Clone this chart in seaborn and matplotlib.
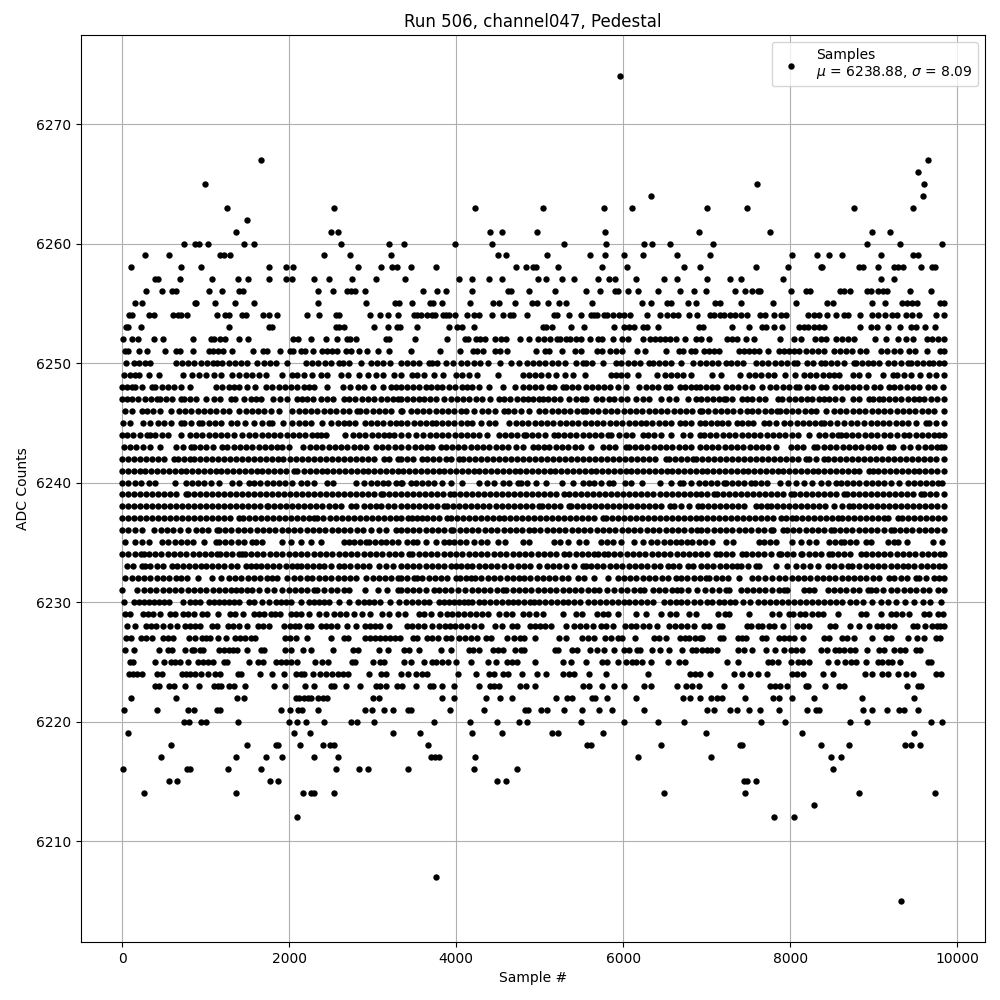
#! /usr/bin/python3
import pandas as pd
import seaborn as sns
import matplotlib
matplotlib.use('Agg')
import matplotlib.pyplot as plt

# sample numbers, one list per ADC level
adc_6205 = [9332]
adc_6207 = [3760]
adc_6212 = [2096, 7808, 8048]
adc_6213 = [8288]
adc_6214 = [260, 1364, 2168, 2264, 2300, 2540, 6484, 7460, 8828, 9740]
adc_6215 = [560, 656, 1772, 1868, 4492, 4600, 7448, 7484, 7592]
adc_6216 = [8, 776, 812, 1268, 1664, 2564, 2840, 2948, 3424, 4216, 4732, 8516]
adc_6217 = [464, 1364, 1724, 1916, 2300, 2588, 3700, 3748, 3796, 4228, 6184, 7052, 8492, 8612]
adc_6218 = [584, 1496, 1844, 1868, 2132, 2408, 2492, 2540, 3664, 5572, 5620, 6448, 7400, 7424, 8372, 8708, 9380, 9452, 9560]
adc_6219 = [68, 2060, 2252, 3248, 3568, 4192, 4552, 5152, 5224, 5764, 6992, 8144, 9488]
adc_6220 = [740, 800, 944, 1004, 1388, 2000, 2096, 2204, 2420, 2744, 2816, 3020, 3736, 4168, 4492, 4756, 4852, 5500, 6016, 6412, 6724, 7652, 7940, 8720, 8924, 9692, 9824]
adc_6221 = [20, 416, 788, 860, 1136, 1172, 1904, 2012, 2108, 2156, 2348, 2912, 2996, 3136, 3248, 3424, 3460, 3928, 4336, 4828, 4864, 5020, 5092, 5296, 5512, 5716, 5872, 6256, 7004, 7088, 7280, 7364, 7508, 7640, 7868, 8204, 8312, 8348, 8876, 8984, 9164, 9308, 9368, 9536]
adc_6222 = [104, 644, 1376, 1460, 2084, 2120, 2180, 2228, 2264, 2348, 2408, 2456, 3008, 3080, 3832, 3976, 4360, 4528, 4672, 5200, 5332, 5392, 5632, 5668, 5812, 6160, 6712, 6796, 6920, 7052, 7124, 7184, 7460, 7796, 7868, 8024, 8288, 8864, 9488]
adc_6223 = [392, 440, 560, 620, 752, 920, 1100, 1148, 1184, 1280, 1340, 1472, 1820, 1952, 2192, 2300, 2504, 2540, 2684, 2852, 3044, 3092, 3164, 3296, 3356, 3520, 3688, 3724, 3832, 3976, 4276, 4408, 4456, 4516, 4768, 4840, 4948, 5524, 5596, 5752, 5896, 6016, 6256, 6340, 6640, 6748, 6820, 6908, 7208, 7412, 7760, 7820, 7880, 7964, 8192, 8216, 8412, 8588, 8648, 9404, 9536, 9572]
adc_6224 = [80, 128, 176, 236, 416, 476, 716, 764, 812, 872, 944, 1028, 1112, 1172, 1388, 1424, 1652, 1796, 1940, 2084, 2144, 2180, 2288, 2372, 2444, 2516, 2588, 2648, 2708, 2960, 3104, 3164, 3344, 3424, 3520, 3592, 3652, 4024, 4240, 4396, 4456, 4564, 4624, 4792, 4972, 5080, 5284, 5356, 5416, 5596, 5800, 6304, 6796, 6856, 6916, 7040, 7328, 7424, 7520, 7616, 7724, 8024, 8084, 8156, 8396, 8516, 8900, 8984, 9104, 9176, 9296, 9392, 9476, 9752, 9812]
adc_6225 = [92, 128, 392, 500, 584, 632, 692, 788, 908, 968, 1028, 1088, 1220, 1256, 1520, 1628, 1688, 1844, 1904, 1964, 2024, 2096, 2312, 2396, 2468, 2756, 2792, 3008, 3092, 3140, 3376, 3460, 3616, 3712, 3760, 3832, 3904, 4000, 4180, 4384, 4480, 4612, 4672, 4732, 4948, 5284, 5380, 5560, 5752, 5812, 5944, 6040, 6112, 6160, 6232, 6340, 6532, 6664, 6736, 7244, 7376, 7736, 7784, 7856, 8012, 8096, 8156, 8228, 8456, 8564, 8660, 8732, 8792, 8912, 9056, 9104, 9176, 9224, 9320, 9656, 9692]
adc_6226 = [32, 140, 440, 548, 596, 752, 836, 860, 932, 968, 1160, 1220, 1280, 1328, 1376, 1496, 1664, 1700, 1952, 2024, 2168, 2264, 2528, 2768, 2828, 3080, 3188, 3376, 3436, 3556, 3820, 3940, 4156, 4204, 4276, 4444, 4504, 4564, 4708, 4780, 4816, 5188, 5224, 5392, 5452, 5608, 5692, 5776, 5896, 6016, 6076, 6172, 6208, 6352, 6436, 6544, 6700, 6820, 6868, 6944, 7004, 7052, 7124, 7376, 7448, 7544, 7712, 7820, 7928, 8012, 8072, 8144, 8372, 8444, 8540, 8588, 8648, 8720, 8780, 8924, 9068, 9128, 9248, 9320, 9380, 9512, 9560]
adc_6227 = [44, 104, 224, 284, 356, 488, 548, 608, 800, 872, 956, 1004, 1052, 1148, 1244, 1352, 1412, 1472, 1544, 1592, 1952, 2012, 2084, 2216, 2504, 2660, 2708, 2912, 2972, 3032, 3092, 3152, 3212, 3272, 3332, 3484, 3532, 3652, 3712, 3784, 3880, 3940, 4036, 4108, 4180, 4252, 4360, 4420, 4612, 4696, 4768, 4816, 4948, 5236, 5320, 5512, 5584, 5656, 5788, 5860, 5944, 5992, 6148, 6376, 6424, 6508, 6676, 6736, 6784, 6856, 6916, 6944, 7160, 7196, 7376, 7424, 7472, 7664, 7712, 7868, 7928, 7988, 8048, 8156, 8408, 8468, 8624, 8684, 8768, 8984, 9152, 9212, 9416, 9524, 9608, 9752, 9800]
adc_6228 = [56, 152, 284, 344, 404, 488, 572, 656, 752, 812, 872, 932, 1076, 1136, 1268, 1328, 1400, 1496, 1628, 1688, 1760, 1940, 2012, 2072, 2120, 2216, 2264, 2384, 2444, 2504, 2576, 2696, 2804, 2912, 2972, 3032, 3092, 3200, 3412, 3472, 3544, 3616, 3712, 3796, 3868, 3928, 3988, 4060, 4132, 4216, 4300, 4468, 4552, 4672, 4732, 4888, 4948, 5008, 5068, 5140, 5320, 5416, 5488, 5560, 5644, 5740, 5800, 5884, 6028, 6100, 6160, 6244, 6316, 6400, 6544, 6616, 6688, 6760, 6844, 6968, 7028, 7148, 7184, 7484, 7532, 7616, 7664, 7748, 7808, 7916, 8084, 8156, 8228, 8480, 8540, 8720, 8828, 8948, 9044, 9104, 9176, 9248, 9476, 9524, 9620, 9704, 9764, 9800, 9840]
adc_6229 = [32, 92, 248, 308, 368, 452, 572, 632, 728, 788, 860, 956, 1016, 1148, 1292, 1352, 1448, 1580, 1640, 1700, 1784, 1832, 1892, 2024, 2084, 2144, 2240, 2360, 2444, 2540, 2612, 2684, 2780, 2876, 2972, 3116, 3200, 3308, 3388, 3556, 3616, 3700, 3808, 3892, 3952, 4024, 4096, 4168, 4240, 4312, 4384, 4516, 4600, 4672, 4804, 4876, 4960, 5044, 5284, 5440, 5512, 5692, 5764, 5824, 5944, 6160, 6280, 6448, 6556, 6628, 6784, 6868, 7136, 7220, 7268, 7508, 7784, 7868, 7988, 8036, 8120, 8180, 8264, 8336, 8396, 8576, 8852, 8912, 9092, 9212, 9272, 9344, 9428, 9608, 9668, 9776, 9836]
adc_6230 = [20, 140, 200, 260, 320, 380, 440, 500, 560, 728, 812, 872, 932, 1040, 1100, 1160, 1220, 1280, 1340, 1400, 1520, 1580, 1676, 1760, 1844, 1904, 1964, 2024, 2144, 2240, 2300, 2360, 2420, 2480, 2600, 2720, 2828, 2900, 2960, 3020, 3092, 3212, 3320, 3400, 3470, 3540, 3610, 3680, 3796, 3860, 3916, 3980, 4040, 4096, 4148, 4196, 4270, 4340, 4410, 4480, 4550, 4616, 4676, 4745, 4815, 4880, 4936, 4996, 5065, 5135, 5205, 5275, 5345, 5415, 5485, 5576, 5656, 5725, 5795, 5865, 5935, 6005, 6075, 6145, 6215, 6285, 6356, 6488, 6558, 6628, 6698, 6768, 6848, 6920, 7004, 7064, 7148, 7208, 7280, 7340, 7436, 7520, 7616, 7688, 7760, 7832, 7904, 7976, 8048, 8120, 8192, 8264, 8336, 8408, 8480, 8552, 8624, 8720, 8792, 8876, 8984, 9092, 9176, 9272, 9380, 9488, 9596, 9680, 9812]
adc_6231 = [0, 180, 260, 335, 410, 485, 560, 635, 710, 785, 860, 935, 1010, 1085, 1160, 1235, 1310, 1360, 1420, 1490, 1560, 1640, 1730, 1820, 1920, 1995, 2070, 2145, 2220, 2300, 2340, 2420, 2500, 2572, 2652, 2720, 2912, 3060, 3168, 3300, 3336, 3410, 3485, 3560, 3635, 3736, 3796, 3870, 3936, 4024, 4110, 4196, 4264, 4340, 4410, 4485, 4556, 4596, 4676, 4750, 4825, 4900, 4975, 5050, 5125, 5200, 5275, 5350, 5425, 5500, 5575, 5650, 5716, 5804, 5896, 5976, 6050, 6125, 6200, 6256, 6356, 6430, 6505, 6580, 6650, 6696, 6776, 6888, 6980, 7068, 7145, 7228, 7268, 7408, 7480, 7555, 7630, 7705, 7780, 7868, 7928, 7968, 8168, 8230, 8288, 8448, 8525, 8600, 8675, 8750, 8825, 8928, 8968, 9028, 9108, 9208, 9280, 9360, 9435, 9508, 9588, 9665, 9768, 9840]
adc_6232 = [40, 115, 190, 265, 340, 415, 490, 565, 640, 700, 772, 912, 1080, 1180, 1280, 1355, 1430, 1505, 1580, 1655, 1730, 1800, 1860, 1980, 2055, 2130, 2220, 2280, 2355, 2430, 2505, 2580, 2655, 2730, 2805, 2920, 3000, 3075, 3150, 3225, 3300, 3340, 3415, 3490, 3536, 3596, 3670, 3745, 3820, 3895, 3996, 4048, 4120, 4176, 4224, 4304, 4380, 4455, 4530, 4605, 4680, 4756, 4816, 4890, 4965, 5040, 5115, 5190, 5265, 5340, 5456, 5536, 5648, 5824, 5936, 6010, 6085, 6160, 6235, 6310, 6385, 6460, 6535, 6636, 6696, 6770, 6845, 6920, 6995, 7028, 7108, 7183, 7258, 7388, 7548, 7620, 7700, 7788, 7868, 7943, 8018, 8093, 8168, 8243, 8318, 8393, 8468, 8543, 8618, 8688, 8763, 8838, 8913, 8988, 9063, 9188, 9248, 9323, 9398, 9508, 9548, 9623, 9728, 9788, 9840]
adc_6233 = [60, 135, 240, 280, 340, 415, 490, 600, 652, 725, 800, 875, 940, 1000, 1075, 1150, 1225, 1300, 1375, 1480, 1540, 1600, 1660, 1735, 1810, 1885, 1960, 2035, 2100, 2140, 2215, 2290, 2360, 2420, 2500, 2600, 2660, 2735, 2810, 2885, 2960, 3080, 3160, 3240, 3340, 3410, 3485, 3560, 3635, 3710, 3785, 3860, 3935, 3996, 4056, 4136, 4196, 4270, 4345, 4420, 4495, 4570, 4656, 4736, 4810, 4885, 4996, 5088, 5160, 5235, 5316, 5416, 5516, 5556, 5616, 5690, 5765, 5840, 5915, 5990, 6065, 6140, 6215, 6290, 6365, 6440, 6536, 6596, 6670, 6776, 6836, 6936, 7005, 7080, 7155, 7230, 7308, 7368, 7416, 7490, 7588, 7628, 7828, 7960, 8068, 8160, 8235, 8336, 8448, 8528, 8610, 8688, 8736, 8828, 8903, 8978, 9053, 9128, 9203, 9278, 9353, 9408, 9488, 9563, 9638, 9713, 9788, 9840]
adc_6234 = [0, 75, 150, 225, 260, 320, 395, 470, 545, 620, 695, 770, 845, 920, 995, 1070, 1140, 1172, 1247, 1322, 1397, 1440, 1468, 1543, 1618, 1693, 1768, 1843, 1918, 1993, 2068, 2143, 2218, 2293, 2368, 2443, 2518, 2593, 2668, 2743, 2818, 2893, 2968, 3043, 3118, 3193, 3268, 3340, 3436, 3476, 3551, 3626, 3701, 3776, 3851, 3926, 4001, 4076, 4151, 4226, 4301, 4376, 4451, 4526, 4601, 4676, 4751, 4826, 4901, 4976, 5051, 5126, 5201, 5296, 5356, 5431, 5506, 5581, 5656, 5696, 5776, 5816, 5891, 5966, 6041, 6116, 6191, 6266, 6341, 6416, 6491, 6566, 6641, 6716, 6791, 6866, 6936, 7010, 7108, 7160, 7235, 7310, 7428, 7468, 7543, 7618, 7693, 7768, 7868, 7888, 7963, 8038, 8128, 8148, 8223, 8298, 8373, 8468, 8496, 8571, 8646, 8721, 8848, 8908, 8983, 9058, 9128, 9200, 9275, 9350, 9425, 9500, 9575, 9650, 9725, 9800, 9840]
adc_6235 = [40, 160, 240, 320, 480, 555, 630, 705, 780, 852, 980, 1120, 1160, 1235, 1310, 1385, 1460, 1560, 1600, 1680, 1920, 2020, 2140, 2260, 2380, 2660, 2720, 2780, 2850, 2920, 2960, 3030, 3100, 3160, 3230, 3300, 3408, 3488, 3536, 3636, 3756, 3856, 3916, 3980, 4048, 4116, 4216, 4296, 4376, 4496, 4584, 4796, 4876, 5168, 5248, 5344, 5476, 5556, 5736, 5810, 5885, 5976, 6136, 6236, 6336, 6408, 6488, 6560, 6628, 6688, 6760, 6828, 6904, 6980, 7068, 7228, 7320, 7628, 7688, 7760, 7828, 8028, 8136, 8228, 8308, 8468, 8540, 8608, 8648, 8720, 8795, 8908, 8968, 9176, 9248, 9288, 9396, 9716, 9816]
adc_6236 = [0, 75, 150, 240, 388, 463, 538, 613, 688, 788, 880, 955, 1030, 1140, 1160, 1235, 1310, 1385, 1460, 1535, 1610, 1685, 1760, 1835, 1910, 1985, 2060, 2135, 2210, 2285, 2360, 2435, 2510, 2585, 2660, 2735, 2810, 2885, 2980, 3080, 3155, 3280, 3336, 3411, 3486, 3561, 3636, 3711, 3786, 3861, 3936, 3968, 4043, 4118, 4193, 4268, 4343, 4418, 4493, 4568, 4643, 4718, 4793, 4868, 4936, 5008, 5083, 5158, 5233, 5308, 5383, 5458, 5533, 5608, 5683, 5758, 5833, 5908, 5983, 6058, 6136, 6208, 6283, 6358, 6433, 6508, 6583, 6658, 6733, 6808, 6883, 6936, 7010, 7085, 7160, 7235, 7310, 7385, 7460, 7535, 7610, 7685, 7768, 7800, 7920, 7960, 8035, 8110, 8185, 8260, 8335, 8410, 8488, 8520, 8595, 8670, 8745, 8820, 8895, 8970, 9045, 9120, 9208, 9240, 9315, 9390, 9465, 9540, 9615, 9690, 9765, 9840]
adc_6237 = [0, 72, 144, 216, 288, 360, 432, 504, 576, 648, 720, 792, 864, 936, 1008, 1080, 1152, 1224, 1296, 1400, 1452, 1524, 1596, 1668, 1740, 1812, 1884, 1956, 2028, 2100, 2172, 2244, 2300, 2340, 2412, 2484, 2556, 2628, 2700, 2772, 2844, 2916, 2988, 3060, 3132, 3204, 3276, 3340, 3424, 3476, 3536, 3596, 3656, 3728, 3800, 3896, 3936, 4008, 4080, 4152, 4224, 4296, 4368, 4440, 4516, 4576, 4648, 4720, 4792, 4864, 4936, 5008, 5080, 5152, 5224, 5296, 5368, 5440, 5512, 5584, 5656, 5756, 5796, 5868, 5940, 6012, 6084, 6156, 6228, 6300, 6372, 6444, 6516, 6588, 6660, 6732, 6804, 6876, 6936, 7000, 7072, 7144, 7216, 7288, 7360, 7432, 7504, 7576, 7648, 7720, 7792, 7888, 7948, 8028, 8068, 8140, 8212, 8284, 8356, 8428, 8500, 8568, 8616, 8688, 8760, 8832, 8904, 8976, 9048, 9128, 9176, 9288, 9336, 9408, 9480, 9552, 9624, 9696, 9768, 9840]
adc_6238 = [0, 72, 144, 216, 288, 360, 432, 504, 576, 648, 720, 792, 864, 936, 1008, 1080, 1152, 1224, 1296, 1368, 1440, 1512, 1584, 1656, 1732, 1752, 1824, 1896, 1968, 2040, 2112, 2184, 2256, 2328, 2400, 2472, 2544, 2616, 2740, 2800, 2900, 2970, 3040, 3100, 3180, 3255, 3340, 3410, 3482, 3554, 3626, 3698, 3770, 3856, 3896, 3968, 4040, 4112, 4184, 4256, 4328, 4400, 4472, 4544, 4616, 4688, 4760, 4832, 4904, 4996, 5024, 5096, 5168, 5240, 5356, 5376, 5448, 5520, 5592, 5664, 5736, 5808, 5880, 5952, 6024, 6096, 6168, 6240, 6312, 6384, 6456, 6556, 6608, 6688, 6784, 6896, 6950, 7020, 7092, 7164, 7236, 7308, 7380, 7452, 7588, 7648, 7728, 7768, 7840, 7912, 7984, 8056, 8128, 8200, 8272, 8344, 8416, 8528, 8616, 8700, 8748, 8820, 8892, 8964, 9036, 9108, 9180, 9252, 9324, 9396, 9468, 9540, 9612, 9684, 9756, 9840]
adc_6239 = [0, 72, 144, 216, 288, 360, 432, 504, 576, 648, 760, 790, 862, 934, 1006, 1078, 1150, 1222, 1294, 1366, 1438, 1510, 1582, 1654, 1726, 1798, 1870, 1942, 2014, 2086, 2158, 2230, 2302, 2374, 2446, 2518, 2590, 2662, 2734, 2806, 2878, 2950, 3022, 3100, 3120, 3192, 3264, 3340, 3408, 3480, 3552, 3624, 3696, 3768, 3840, 3928, 3976, 4048, 4120, 4192, 4264, 4336, 4408, 4480, 4552, 4624, 4696, 4768, 4840, 4912, 4984, 5056, 5128, 5200, 5296, 5356, 5428, 5500, 5572, 5644, 5716, 5788, 5860, 5932, 6004, 6076, 6148, 6220, 6292, 6364, 6436, 6508, 6580, 6652, 6724, 6796, 6868, 6936, 7010, 7088, 7128, 7200, 7272, 7344, 7416, 7488, 7560, 7632, 7704, 7776, 7848, 7920, 8008, 8048, 8120, 8192, 8264, 8336, 8408, 8480, 8552, 8648, 8676, 8748, 8820, 8892, 8964, 9036, 9108, 9180, 9252, 9324, 9396, 9468, 9568, 9608, 9680, 9752, 9840]
adc_6240 = [0, 75, 150, 225, 320, 392, 632, 760, 835, 910, 985, 1060, 1160, 1320, 1395, 1520, 1580, 1655, 1730, 1805, 1880, 1955, 2040, 2140, 2220, 2300, 2460, 2520, 2800, 2900, 2975, 3050, 3120, 3188, 3280, 3340, 3356, 3456, 3516, 3590, 3665, 3740, 3836, 3936, 4076, 4276, 4376, 4456, 4556, 4630, 4736, 4776, 4850, 4956, 5076, 5264, 5396, 5516, 5596, 5656, 5730, 5836, 5884, 6024, 6100, 6224, 6444, 6576, 6676, 6716, 6816, 6908, 6980, 7055, 7130, 7208, 7228, 7303, 7378, 7453, 7528, 7576, 7648, 7728, 7876, 7980, 8068, 8168, 8268, 8368, 8448, 8548, 8608, 8680, 8755, 8830, 8905, 8980, 9048, 9128, 9208, 9308, 9408, 9480, 9555, 9630, 9705, 9768, 9816]
adc_6241 = [0, 70, 140, 210, 280, 350, 420, 490, 560, 630, 700, 770, 840, 910, 980, 1050, 1120, 1190, 1260, 1330, 1400, 1470, 1540, 1610, 1680, 1750, 1820, 1890, 1960, 2060, 2100, 2180, 2250, 2320, 2390, 2460, 2530, 2600, 2670, 2740, 2810, 2880, 2950, 3020, 3090, 3160, 3230, 3300, 3370, 3440, 3510, 3580, 3650, 3720, 3790, 3860, 3930, 4000, 4070, 4140, 4210, 4280, 4350, 4420, 4490, 4560, 4630, 4700, 4770, 4840, 4910, 4980, 5050, 5120, 5190, 5260, 5330, 5400, 5470, 5540, 5610, 5680, 5750, 5820, 5890, 5960, 6030, 6100, 6170, 6240, 6310, 6380, 6450, 6520, 6590, 6660, 6730, 6800, 6870, 6940, 7010, 7080, 7150, 7220, 7290, 7360, 7430, 7500, 7570, 7640, 7710, 7780, 7850, 7920, 7990, 8060, 8130, 8200, 8270, 8340, 8410, 8480, 8550, 8620, 8690, 8760, 8830, 8948, 8988, 9058, 9128, 9198, 9268, 9338, 9408, 9478, 9548, 9618, 9688, 9758, 9840]
adc_6242 = [0, 72, 144, 216, 288, 360, 432, 504, 620, 670, 740, 812, 860, 932, 1004, 1076, 1148, 1220, 1292, 1364, 1436, 1508, 1580, 1652, 1724, 1796, 1868, 1932, 2012, 2084, 2156, 2228, 2300, 2372, 2444, 2516, 2588, 2660, 2732, 2804, 2876, 2948, 3020, 3140, 3200, 3300, 3336, 3408, 3480, 3596, 3656, 3728, 3800, 3876, 3936, 4036, 4084, 4156, 4228, 4300, 4372, 4444, 4516, 4588, 4660, 4732, 4804, 4876, 4948, 5020, 5092, 5164, 5236, 5308, 5380, 5452, 5524, 5596, 5668, 5740, 5812, 5884, 5956, 6028, 6100, 6172, 6244, 6316, 6388, 6516, 6548, 6620, 6692, 6764, 6840, 6868, 6940, 7012, 7084, 7156, 7228, 7300, 7372, 7444, 7516, 7588, 7660, 7732, 7804, 7876, 7948, 8020, 8092, 8188, 8228, 8308, 8408, 8456, 8528, 8600, 8672, 8744, 8816, 8888, 8960, 9032, 9104, 9176, 9248, 9320, 9392, 9464, 9536, 9608, 9680, 9752, 9840]
adc_6243 = [20, 95, 170, 245, 340, 460, 640, 730, 820, 860, 935, 1010, 1085, 1200, 1260, 1335, 1410, 1485, 1560, 1635, 1710, 1785, 1860, 1920, 2000, 2172, 2247, 2322, 2397, 2472, 2547, 2622, 2697, 2772, 2847, 2920, 3040, 3115, 3190, 3265, 3340, 3420, 3504, 3576, 3656, 3716, 3816, 3876, 3950, 4025, 4100, 4175, 4250, 4325, 4396, 4476, 4550, 4625, 4716, 4796, 4916, 4976, 5050, 5116, 5196, 5270, 5345, 5420, 5495, 5616, 5756, 5830, 5905, 6036, 6076, 6148, 6216, 6290, 6365, 6440, 6515, 6590, 6665, 6740, 6815, 6916, 6990, 7065, 7140, 7215, 7290, 7365, 7440, 7515, 7590, 7665, 7740, 7828, 8008, 8085, 8160, 8288, 8328, 8403, 8478, 8553, 8628, 8703, 8778, 8853, 8928, 9003, 9078, 9188, 9228, 9348, 9440, 9536, 9610, 9685, 9760, 9808, 9840]
adc_6244 = [0, 60, 135, 210, 300, 340, 400, 475, 550, 700, 812, 885, 960, 1035, 1110, 1185, 1260, 1335, 1440, 1520, 1595, 1670, 1745, 1820, 1895, 1970, 2045, 2120, 2195, 2270, 2340, 2380, 2440, 2668, 2760, 2840, 2915, 2990, 3065, 3140, 3200, 3260, 3340, 3420, 3516, 3608, 3683, 3758, 3833, 3908, 3983, 4058, 4133, 4208, 4276, 4376, 4516, 4584, 4659, 4734, 4816, 4836, 4911, 4986, 5061, 5176, 5216, 5291, 5366, 5441, 5516, 5591, 5666, 5741, 5816, 5856, 5956, 6030, 6105, 6236, 6296, 6376, 6450, 6576, 6716, 6796, 6916, 6968, 7043, 7118, 7193, 7268, 7343, 7418, 7493, 7568, 7643, 7718, 7793, 7868, 7943, 8018, 8093, 8228, 8348, 8423, 8498, 8568, 8608, 8668, 8743, 8818, 8893, 8968, 9043, 9128, 9200, 9275, 9368, 9428, 9503, 9578, 9653, 9728, 9788, 9848]
adc_6245 = [12, 100, 252, 340, 428, 500, 580, 700, 740, 830, 920, 960, 1035, 1110, 1185, 1300, 1372, 1472, 1580, 1670, 1760, 1800, 1932, 2040, 2115, 2190, 2265, 2400, 2500, 2580, 2660, 2720, 2788, 2908, 2980, 3055, 3130, 3205, 3280, 3340, 3416, 3490, 3565, 3640, 3716, 3756, 3830, 3905, 3980, 4055, 4130, 4196, 4296, 4396, 4464, 4636, 4716, 4790, 4865, 4940, 5015, 5090, 5165, 5240, 5315, 5390, 5465, 5540, 5615, 5690, 5765, 5840, 5915, 5990, 6065, 6140, 6216, 6276, 6350, 6425, 6500, 6575, 6676, 6736, 6816, 6916, 6975, 7050, 7128, 7188, 7260, 7368, 7420, 7490, 7560, 7688, 7748, 7828, 7928, 8003, 8078, 8153, 8228, 8303, 8368, 8408, 8483, 8558, 8640, 8728, 8796, 8888, 8963, 9038, 9113, 9188, 9263, 9338, 9408, 9508, 9628, 9668, 9743, 9840]
adc_6246 = [40, 115, 240, 300, 375, 450, 580, 680, 755, 830, 905, 980, 1055, 1130, 1205, 1280, 1400, 1480, 1555, 1630, 1705, 1780, 1880, 2040, 2115, 2190, 2265, 2340, 2415, 2490, 2565, 2640, 2715, 2812, 2850, 2925, 3000, 3075, 3150, 3225, 3340, 3356, 3456, 3530, 3605, 3680, 3755, 3830, 3905, 3980, 4055, 4116, 4216, 4316, 4384, 4460, 4576, 4616, 4696, 4776, 4876, 4996, 5070, 5145, 5220, 5295, 5370, 5445, 5516, 5556, 5630, 5705, 5780, 5855, 5930, 6005, 6080, 6155, 6230, 6305, 6380, 6455, 6530, 6605, 6680, 6755, 6830, 6916, 6948, 7020, 7095, 7170, 7245, 7320, 7395, 7488, 7548, 7620, 7695, 7770, 7848, 7876, 7950, 8025, 8100, 8175, 8250, 8308, 8428, 8528, 8600, 8675, 8750, 8825, 8900, 8975, 9050, 9125, 9200, 9275, 9350, 9425, 9500, 9575, 9650, 9725, 9840]
adc_6247 = [0, 60, 120, 195, 270, 345, 420, 450, 525, 600, 700, 740, 815, 890, 1000, 1100, 1175, 1300, 1352, 1460, 1540, 1600, 1660, 1812, 1890, 1980, 2100, 2160, 2220, 2288, 2380, 2455, 2530, 2660, 2720, 2795, 2870, 2945, 3020, 3095, 3170, 3245, 3300, 3336, 3410, 3485, 3556, 3616, 3690, 3756, 3856, 3936, 4010, 4085, 4160, 4235, 4316, 4408, 4516, 4576, 4650, 4725, 4800, 4856, 4916, 4990, 5036, 5096, 5170, 5248, 5356, 5430, 5505, 5556, 5676, 5750, 5836, 5896, 5976, 6044, 6156, 6235, 6316, 6448, 6548, 6628, 6776, 6876, 6936, 7000, 7075, 7150, 7212, 7228, 7303, 7428, 7488, 7548, 7628, 7700, 7856, 7908, 7983, 8058, 8133, 8208, 8268, 8343, 8408, 8468, 8543, 8618, 8748, 8828, 8948, 8988, 9068, 9108, 9183, 9258, 9333, 9408, 9488, 9548, 9608, 9683, 9758, 9840]
adc_6248 = [0, 60, 120, 160, 235, 360, 400, 475, 550, 625, 708, 812, 1120, 1200, 1280, 1340, 1400, 1490, 1592, 1728, 1800, 1875, 1950, 2025, 2100, 2180, 2240, 2300, 2460, 2640, 2730, 2820, 2900, 3000, 3120, 3220, 3280, 3340, 3410, 3485, 3560, 3635, 3696, 3776, 3836, 3916, 3990, 4065, 4136, 4196, 4270, 4396, 4556, 4704, 4796, 4876, 4948, 5016, 5116, 5168, 5276, 5316, 5390, 5456, 5556, 5630, 5705, 5776, 5848, 5936, 6036, 6196, 6270, 6345, 6420, 6516, 6556, 6676, 6736, 6810, 6876, 6916, 6995, 7068, 7128, 7228, 7308, 7380, 7455, 7548, 7660, 7760, 7835, 7910, 7985, 8068, 8108, 8208, 8280, 8368, 8428, 8540, 8608, 8680, 8755, 8830, 8908, 9008, 9080, 9188, 9248, 9320, 9395, 9468, 9548, 9648, 9720, 9828]
adc_6249 = [20, 90, 160, 200, 320, 440, 728, 840, 920, 1000, 1100, 1180, 1320, 1400, 1480, 1560, 1640, 1720, 1920, 2040, 2100, 2180, 2280, 2380, 2460, 2620, 2700, 2840, 2940, 3040, 3128, 3260, 3340, 3476, 3536, 3610, 3736, 3844, 4000, 4075, 4150, 4256, 4496, 4796, 4870, 4945, 5020, 5095, 5196, 5308, 5404, 5548, 5856, 5916, 5976, 6050, 6176, 6408, 6496, 6570, 6645, 6720, 6816, 7068, 7168, 7400, 7508, 7580, 7655, 7730, 7805, 7936, 8060, 8168, 8240, 8315, 8390, 8468, 8520, 8588, 8748, 8825, 8928, 9108, 9228, 9276, 9368, 9450, 9560, 9668, 9745, 9840]
adc_6250 = [52, 140, 208, 280, 340, 640, 715, 790, 865, 940, 1015, 1090, 1140, 1200, 1275, 1350, 1425, 1500, 1620, 1695, 1770, 1845, 1980, 2200, 2275, 2350, 2425, 2500, 2600, 2640, 2720, 2860, 2980, 3055, 3130, 3205, 3340, 3410, 3485, 3560, 3676, 3716, 3776, 3876, 3960, 4056, 4136, 4210, 4285, 4384, 4528, 4656, 4756, 4848, 4920, 4995, 5070, 5145, 5216, 5308, 5436, 5516, 5556, 5630, 5756, 5916, 5976, 6056, 6130, 6205, 6316, 6364, 6424, 6500, 6575, 6696, 6836, 6916, 6990, 7065, 7140, 7228, 7288, 7368, 7440, 7588, 7668, 7740, 7815, 7890, 7965, 8048, 8088, 8200, 8280, 8368, 8416, 8490, 8565, 8640, 8768, 8788, 8860, 8928, 8988, 9060, 9168, 9248, 9328, 9408, 9448, 9520, 9595, 9668, 9708, 9780, 9840]
adc_6251 = [32, 68, 200, 296, 512, 644, 692, 848, 1040, 1088, 1148, 1208, 1316, 1568, 1688, 1736, 1892, 2012, 2048, 2144, 2192, 2288, 2396, 2456, 2516, 2576, 2684, 2744, 2840, 2936, 3068, 3200, 3460, 3808, 4048, 4204, 4252, 4324, 4468, 4528, 4612, 4960, 5068, 5116, 5272, 5428, 5500, 5692, 5752, 5848, 5920, 5992, 6172, 6268, 6508, 6664, 6712, 6808, 6856, 6968, 7028, 7088, 7148, 7388, 7448, 7508, 7568, 7628, 7736, 7868, 7928, 7988, 8048, 8108, 8192, 8264, 8336, 8408, 8528, 8600, 8672, 8744, 8840, 8912, 9092, 9164, 9248, 9320, 9428, 9500, 9644, 9800, 9840]
adc_6252 = [8, 116, 188, 380, 488, 848, 1064, 1100, 1172, 1232, 1400, 1508, 2048, 2108, 2264, 2444, 2576, 2696, 2732, 2804, 3164, 3200, 3508, 3892, 4108, 4144, 4240, 4288, 4348, 4468, 4540, 4600, 4768, 4876, 4984, 5056, 5128, 5212, 5248, 5320, 5368, 5440, 5500, 5608, 5704, 5752, 5884, 5992, 6064, 6244, 6328, 6388, 6436, 6496, 6556, 6628, 6736, 6868, 6932, 7028, 7244, 7304, 7364, 7472, 7568, 7876, 8048, 8132, 8300, 8372, 8432, 8552, 8624, 8696, 8768, 9020, 9152, 9296, 9392, 9476, 9644, 9704, 9776, 9840]
adc_6253 = [44, 68, 224, 1280, 1760, 1796, 2564, 2600, 2660, 3020, 3188, 3296, 3332, 3532, 3916, 4012, 4072, 4216, 5044, 5080, 5152, 5380, 5536, 5896, 6016, 6076, 6136, 6244, 6292, 6412, 6904, 6956, 7304, 7508, 7664, 7712, 7808, 7904, 8108, 8168, 8216, 8288, 8348, 8408, 8840, 8972, 9044, 9176, 9320, 9452, 9512, 9620, 9740]
adc_6254 = [80, 116, 320, 380, 608, 668, 704, 776, 1136, 1232, 1280, 1436, 1484, 1688, 1760, 1856, 2216, 2360, 2564, 2600, 2972, 3092, 3188, 3308, 3496, 3532, 3580, 3652, 3712, 3748, 3844, 3880, 3916, 3988, 4132, 4216, 4276, 4432, 4564, 4648, 4684, 4852, 5176, 5212, 5356, 5500, 5620, 5656, 5692, 5776, 5812, 5884, 5956, 6016, 6088, 6292, 6436, 6520, 6592, 6652, 6784, 6880, 7040, 7088, 7160, 7208, 7280, 7340, 7412, 7484, 7640, 7700, 7808, 7892, 7952, 8216, 8288, 8348, 8444, 8552, 8648, 8696, 8840, 8984, 9056, 9140, 9224, 9284, 9392, 9464, 9548, 9752, 9840]
adc_6255 = [152, 236, 872, 888, 1112, 1352, 1580, 2348, 2924, 3272, 3320, 3472, 3688, 3724, 3832, 4168, 4444, 4516, 4708, 4912, 4972, 5104, 5236, 5320, 5632, 6232, 6340, 6520, 6568, 6772, 6868, 7100, 7160, 7412, 7796, 8072, 8444, 8516, 8984, 9140, 9344, 9404, 9464, 9524, 9800, 9840]
adc_6256 = [284, 476, 596, 644, 1040, 1196, 1400, 1448, 2348, 2528, 2696, 2744, 2792, 2912, 3604, 3772, 3880, 4192, 4624, 4660, 4876, 5188, 5560, 5728, 5908, 5944, 6064, 6184, 6412, 6676, 6844, 6992, 7340, 7460, 7544, 7616, 7640, 8012, 8192, 8240, 8600, 8648, 8720, 8924, 8972, 9056, 9116, 9164, 9440, 9692]
adc_6257 = [392, 428, 692, 1076, 1388, 1508, 1760, 1964, 2036, 2300, 2480, 2756, 3044, 3388, 4036, 4192, 4396, 4552, 4984, 5080, 5272, 5416, 5704, 5836, 5908, 6160, 6484, 6640, 7004, 7280, 7412, 7916, 9092, 9248]
adc_6258 = [104, 704, 944, 1760, 1964, 2048, 2828, 3104, 3236, 3296, 3460, 3760, 4720, 4840, 4924, 4960, 5224, 5752, 6052, 6724, 6916, 7592, 7976, 8372, 8384, 8828, 8876, 9056, 9248, 9296, 9356, 9572, 9704, 9740]
adc_6259 = [272, 560, 1172, 1220, 1292, 2420, 2732, 3224, 4500, 4596, 5092, 5608, 5788, 6016, 6244, 6640, 7040, 8024, 8324, 8468, 8624, 9092, 9476, 9536]
adc_6260 = [740, 872, 920, 1028, 1460, 1580, 2624, 3200, 3376, 3988, 4432, 5296, 5800, 6256, 6352, 6556, 7076, 8924, 9320, 9824]
adc_6261 = [1364, 2504, 2588, 4408, 4552, 4972, 5788, 6904, 7760, 8984, 9200]
adc_6262 = [1496]
adc_6263 = [1256, 2540, 4228, 5044, 5776, 6112, 7004, 7484, 8768, 9476]
adc_6264 = [6340, 9596]
adc_6265 = [992, 7604, 9608]
adc_6266 = [9536]
adc_6267 = [1664, 9656]
adc_6274 = [5968]

levels = [6205, 6207, 6212, 6213, 6214, 6215, 6216, 6217, 6218, 6219, 6220, 6221, 6222, 6223, 6224,
          6225, 6226, 6227, 6228, 6229, 6230, 6231, 6232, 6233, 6234, 6235, 6236, 6237, 6238, 6239,
          6240, 6241, 6242, 6243, 6244, 6245, 6246, 6247, 6248, 6249, 6250, 6251, 6252, 6253, 6254,
          6255, 6256, 6257, 6258, 6259, 6260, 6261, 6262, 6263, 6264, 6265, 6266, 6267, 6274]
samples = [adc_6205, adc_6207, adc_6212, adc_6213, adc_6214, adc_6215, adc_6216, adc_6217, adc_6218,
           adc_6219, adc_6220, adc_6221, adc_6222, adc_6223, adc_6224, adc_6225, adc_6226, adc_6227,
           adc_6228, adc_6229, adc_6230, adc_6231, adc_6232, adc_6233, adc_6234, adc_6235, adc_6236,
           adc_6237, adc_6238, adc_6239, adc_6240, adc_6241, adc_6242, adc_6243, adc_6244, adc_6245,
           adc_6246, adc_6247, adc_6248, adc_6249, adc_6250, adc_6251, adc_6252, adc_6253, adc_6254,
           adc_6255, adc_6256, adc_6257, adc_6258, adc_6259, adc_6260, adc_6261, adc_6262, adc_6263,
           adc_6264, adc_6265, adc_6266, adc_6267, adc_6274]

rows = []
for level, xs in zip(levels, samples):
    for x in xs:
        rows.append((min(x, 9840), level))
frame = pd.DataFrame(rows, columns=['sample', 'adc'])

f, ax = plt.subplots(figsize=(10, 10), dpi=100)

sns.scatterplot(data=frame, x='sample', y='adc', color='black', s=21, linewidth=0, ax=ax,
                label='Samples\n$\\mu$ = 6238.88, $\\sigma$ = 8.09')

ax.set_xlim(-492, 10334)
ax.set_ylim(6201.55, 6277.45)
ax.grid(True)
ax.set_axisbelow(True)
ax.set_title('Run 506, channel047, Pedestal')
ax.set_xlabel('Sample #')
ax.set_ylabel('ADC Counts')
ax.ticklabel_format(useOffset=False, style='plain')
ax.legend(loc='upper right')

f.subplots_adjust(left=0.081, right=0.985, top=0.965, bottom=0.058)
plt.savefig('out.png', dpi=100)
